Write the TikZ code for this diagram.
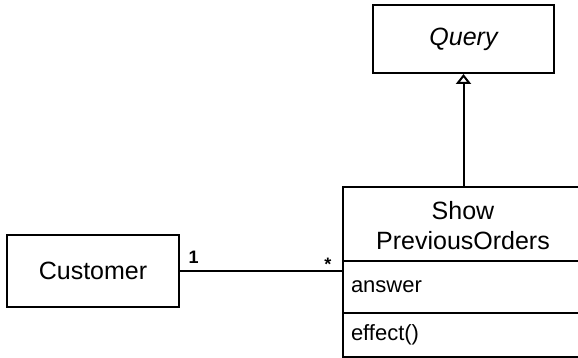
\documentclass[tikz,border=0pt]{standalone}
\usepackage{fontspec}
\setmainfont{Liberation Sans}
\usetikzlibrary{arrows.meta}

\begin{document}
\begin{tikzpicture}[x=1pt, y=-1pt, line width=2pt,
        umlbox/.style={draw, rectangle, inner sep=0pt, font=\fontsize{25}{30}\selectfont},
        compart/.style={draw, rectangle, inner ysep=0pt, inner xsep=8pt, text width=234pt,
            align=left, font=\fontsize{22}{26}\selectfont},
        mult/.style={font=\fontsize{18}{20}\selectfont\bfseries, inner sep=0pt}]
        \useasboundingbox (0, 0) rectangle (578, 358);
        \node[umlbox, minimum width=181, minimum height=68] (query) at (463.5, 39) {\itshape Query};
        \node[umlbox, minimum width=172, minimum height=72] (cust) at (93, 271) {Customer};
        % class with its two compartments, running past the right border
        \node[umlbox, minimum width=250, minimum height=73.4] (show) at (468, 224) {};
        \node[font=\fontsize{25}{30}\selectfont, align=center] (title) at (463, 226) {Show\\PreviousOrders};
        \node[compart, minimum height=52.3] (attr) at (468, 286.85) {answer};
        \node[compart, minimum height=43.7] (ops) at (468, 334.85) {effect()};
        \draw[-{Triangle[open, width=15pt, length=10pt]}] (query.south |- show.north) -- (query.south);
        \draw (cust.east) -- (cust.east -| attr.west)
            node[mult, pos=0, anchor=base west, xshift=7.5pt, yshift=7.5pt] (one) {1}
            node[mult, pos=1, anchor=base east, xshift=-9.5pt, yshift=1pt] (many) {*};
    \end{tikzpicture}
\end{document}
